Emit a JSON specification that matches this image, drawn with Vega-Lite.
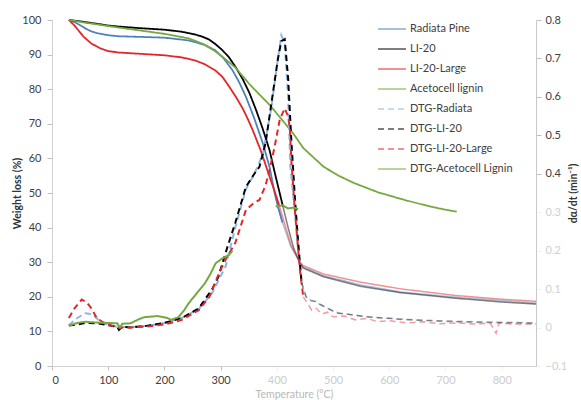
{
  "$schema": "https://vega.github.io/schema/vega-lite/v6.json",
  "width": 484,
  "height": 346,
  "autosize": {"type": "none"},
  "padding": {"left": 52, "top": 20, "right": 45, "bottom": 34},
  "background": "white",
  "config": {
    "view": {"stroke": null},
    "font": "Lato",
    "axis": {"labelFont": "Lato", "titleFont": "Lato", "grid": false}
  },
  "datasets": {
    "tg": [
      {"series": "Radiata Pine", "T": 30, "wl": 100}, {"series": "Radiata Pine", "T": 40, "wl": 99.4}, {"series": "Radiata Pine", "T": 50, "wl": 98.5}, {"series": "Radiata Pine", "T": 60, "wl": 97.5}, {"series": "Radiata Pine", "T": 70, "wl": 96.7}, {"series": "Radiata Pine", "T": 80, "wl": 96.2}, {"series": "Radiata Pine", "T": 100, "wl": 95.6}, {"series": "Radiata Pine", "T": 119, "wl": 95.3}, {"series": "Radiata Pine", "T": 160, "wl": 95.1}, {"series": "Radiata Pine", "T": 200, "wl": 94.9}, {"series": "Radiata Pine", "T": 243, "wl": 94.1}, {"series": "Radiata Pine", "T": 270, "wl": 92.9}, {"series": "Radiata Pine", "T": 290, "wl": 91.3}, {"series": "Radiata Pine", "T": 305, "wl": 89}, {"series": "Radiata Pine", "T": 321, "wl": 85.5}, {"series": "Radiata Pine", "T": 333, "wl": 82}, {"series": "Radiata Pine", "T": 345, "wl": 77.8}, {"series": "Radiata Pine", "T": 360, "wl": 71.5}, {"series": "Radiata Pine", "T": 375, "wl": 64.4}, {"series": "Radiata Pine", "T": 387, "wl": 57.5}, {"series": "Radiata Pine", "T": 396, "wl": 50}, {"series": "Radiata Pine", "T": 402, "wl": 46}, {"series": "Radiata Pine", "T": 410, "wl": 41.5}, {"series": "Radiata Pine", "T": 425, "wl": 34.5}, {"series": "Radiata Pine", "T": 441, "wl": 29.9}, {"series": "Radiata Pine", "T": 447, "wl": 28.6}, {"series": "Radiata Pine", "T": 483, "wl": 26.1}, {"series": "Radiata Pine", "T": 550, "wl": 23.4}, {"series": "Radiata Pine", "T": 620, "wl": 21.4}, {"series": "Radiata Pine", "T": 717, "wl": 19.9}, {"series": "Radiata Pine", "T": 800, "wl": 18.9}, {"series": "Radiata Pine", "T": 861, "wl": 18.2},
      {"series": "LI-20", "T": 30, "wl": 100}, {"series": "LI-20", "T": 50, "wl": 99.6}, {"series": "LI-20", "T": 80, "wl": 98.9}, {"series": "LI-20", "T": 100, "wl": 98.4}, {"series": "LI-20", "T": 119, "wl": 98.1}, {"series": "LI-20", "T": 160, "wl": 97.6}, {"series": "LI-20", "T": 200, "wl": 97.2}, {"series": "LI-20", "T": 231, "wl": 96.6}, {"series": "LI-20", "T": 255, "wl": 95.8}, {"series": "LI-20", "T": 267, "wl": 95.2}, {"series": "LI-20", "T": 279, "wl": 94.4}, {"series": "LI-20", "T": 291, "wl": 93}, {"series": "LI-20", "T": 303, "wl": 91.3}, {"series": "LI-20", "T": 315, "wl": 89.2}, {"series": "LI-20", "T": 327, "wl": 86.3}, {"series": "LI-20", "T": 339, "wl": 83}, {"series": "LI-20", "T": 351, "wl": 79}, {"series": "LI-20", "T": 363, "wl": 74}, {"series": "LI-20", "T": 375, "wl": 68.5}, {"series": "LI-20", "T": 387, "wl": 62.4}, {"series": "LI-20", "T": 398, "wl": 54.7}, {"series": "LI-20", "T": 411, "wl": 46}, {"series": "LI-20", "T": 420, "wl": 40}, {"series": "LI-20", "T": 430, "wl": 34}, {"series": "LI-20", "T": 441, "wl": 29.7}, {"series": "LI-20", "T": 447, "wl": 28.3}, {"series": "LI-20", "T": 483, "wl": 25.8}, {"series": "LI-20", "T": 550, "wl": 23}, {"series": "LI-20", "T": 620, "wl": 21.2}, {"series": "LI-20", "T": 717, "wl": 19.6}, {"series": "LI-20", "T": 800, "wl": 18.5}, {"series": "LI-20", "T": 861, "wl": 17.9},
      {"series": "LI-20-Large", "T": 30, "wl": 100}, {"series": "LI-20-Large", "T": 40, "wl": 98.4}, {"series": "LI-20-Large", "T": 48, "wl": 96.8}, {"series": "LI-20-Large", "T": 56, "wl": 95.2}, {"series": "LI-20-Large", "T": 70, "wl": 93.2}, {"series": "LI-20-Large", "T": 86, "wl": 91.8}, {"series": "LI-20-Large", "T": 100, "wl": 91}, {"series": "LI-20-Large", "T": 119, "wl": 90.6}, {"series": "LI-20-Large", "T": 160, "wl": 90.2}, {"series": "LI-20-Large", "T": 200, "wl": 89.8}, {"series": "LI-20-Large", "T": 231, "wl": 89.2}, {"series": "LI-20-Large", "T": 255, "wl": 88.3}, {"series": "LI-20-Large", "T": 272, "wl": 87.2}, {"series": "LI-20-Large", "T": 290, "wl": 85.5}, {"series": "LI-20-Large", "T": 303, "wl": 83.6}, {"series": "LI-20-Large", "T": 315, "wl": 80.8}, {"series": "LI-20-Large", "T": 327, "wl": 77.8}, {"series": "LI-20-Large", "T": 339, "wl": 74.5}, {"series": "LI-20-Large", "T": 348, "wl": 71.5}, {"series": "LI-20-Large", "T": 357, "wl": 68.2}, {"series": "LI-20-Large", "T": 372, "wl": 62}, {"series": "LI-20-Large", "T": 387, "wl": 54.7}, {"series": "LI-20-Large", "T": 396, "wl": 50.5}, {"series": "LI-20-Large", "T": 405, "wl": 46}, {"series": "LI-20-Large", "T": 415, "wl": 40.5}, {"series": "LI-20-Large", "T": 425, "wl": 35}, {"series": "LI-20-Large", "T": 441, "wl": 30}, {"series": "LI-20-Large", "T": 447, "wl": 29}, {"series": "LI-20-Large", "T": 483, "wl": 26.6}, {"series": "LI-20-Large", "T": 550, "wl": 24.2}, {"series": "LI-20-Large", "T": 620, "wl": 22.3}, {"series": "LI-20-Large", "T": 717, "wl": 20.4}, {"series": "LI-20-Large", "T": 800, "wl": 19.3}, {"series": "LI-20-Large", "T": 861, "wl": 18.7},
      {"series": "Acetocell lignin", "T": 30, "wl": 100}, {"series": "Acetocell lignin", "T": 60, "wl": 99.2}, {"series": "Acetocell lignin", "T": 90, "wl": 98.5}, {"series": "Acetocell lignin", "T": 119, "wl": 97.8}, {"series": "Acetocell lignin", "T": 160, "wl": 96.9}, {"series": "Acetocell lignin", "T": 200, "wl": 96}, {"series": "Acetocell lignin", "T": 243, "wl": 94.7}, {"series": "Acetocell lignin", "T": 270, "wl": 93}, {"series": "Acetocell lignin", "T": 290, "wl": 91}, {"series": "Acetocell lignin", "T": 303, "wl": 89.4}, {"series": "Acetocell lignin", "T": 326, "wl": 86.3}, {"series": "Acetocell lignin", "T": 351, "wl": 81.5}, {"series": "Acetocell lignin", "T": 370, "wl": 78.3}, {"series": "Acetocell lignin", "T": 387, "wl": 75.5}, {"series": "Acetocell lignin", "T": 410, "wl": 71}, {"series": "Acetocell lignin", "T": 430, "wl": 67}, {"series": "Acetocell lignin", "T": 447, "wl": 63}, {"series": "Acetocell lignin", "T": 483, "wl": 57.6}, {"series": "Acetocell lignin", "T": 510, "wl": 55}, {"series": "Acetocell lignin", "T": 537, "wl": 52.9}, {"series": "Acetocell lignin", "T": 580, "wl": 50.2}, {"series": "Acetocell lignin", "T": 627, "wl": 48}, {"series": "Acetocell lignin", "T": 670, "wl": 46.2}, {"series": "Acetocell lignin", "T": 699, "wl": 45.2}, {"series": "Acetocell lignin", "T": 720, "wl": 44.6}
    ],
    "dtg": [
      {"series": "DTG-Radiata", "T": 30, "dtg": 0.006}, {"series": "DTG-Radiata", "T": 45, "dtg": 0.025}, {"series": "DTG-Radiata", "T": 59, "dtg": 0.037}, {"series": "DTG-Radiata", "T": 72, "dtg": 0.035}, {"series": "DTG-Radiata", "T": 86, "dtg": 0.015}, {"series": "DTG-Radiata", "T": 100, "dtg": 0.007}, {"series": "DTG-Radiata", "T": 116, "dtg": 0.002}, {"series": "DTG-Radiata", "T": 140, "dtg": 0.001}, {"series": "DTG-Radiata", "T": 170, "dtg": 0.005}, {"series": "DTG-Radiata", "T": 200, "dtg": 0.012}, {"series": "DTG-Radiata", "T": 231, "dtg": 0.025}, {"series": "DTG-Radiata", "T": 261, "dtg": 0.048}, {"series": "DTG-Radiata", "T": 285, "dtg": 0.09}, {"series": "DTG-Radiata", "T": 309, "dtg": 0.16}, {"series": "DTG-Radiata", "T": 326, "dtg": 0.26}, {"series": "DTG-Radiata", "T": 345, "dtg": 0.36}, {"series": "DTG-Radiata", "T": 360, "dtg": 0.4}, {"series": "DTG-Radiata", "T": 375, "dtg": 0.45}, {"series": "DTG-Radiata", "T": 390, "dtg": 0.57}, {"series": "DTG-Radiata", "T": 400, "dtg": 0.68}, {"series": "DTG-Radiata", "T": 408, "dtg": 0.76}, {"series": "DTG-Radiata", "T": 414, "dtg": 0.74}, {"series": "DTG-Radiata", "T": 420, "dtg": 0.6}, {"series": "DTG-Radiata", "T": 424, "dtg": 0.42}, {"series": "DTG-Radiata", "T": 428, "dtg": 0.36}, {"series": "DTG-Radiata", "T": 432, "dtg": 0.3}, {"series": "DTG-Radiata", "T": 438, "dtg": 0.2}, {"series": "DTG-Radiata", "T": 444, "dtg": 0.12}, {"series": "DTG-Radiata", "T": 452, "dtg": 0.078}, {"series": "DTG-Radiata", "T": 480, "dtg": 0.058}, {"series": "DTG-Radiata", "T": 510, "dtg": 0.038}, {"series": "DTG-Radiata", "T": 560, "dtg": 0.028}, {"series": "DTG-Radiata", "T": 620, "dtg": 0.021}, {"series": "DTG-Radiata", "T": 700, "dtg": 0.015}, {"series": "DTG-Radiata", "T": 780, "dtg": 0.012}, {"series": "DTG-Radiata", "T": 861, "dtg": 0.01},
      {"series": "DTG-LI-20", "T": 30, "dtg": 0.005}, {"series": "DTG-LI-20", "T": 45, "dtg": 0.008}, {"series": "DTG-LI-20", "T": 60, "dtg": 0.012}, {"series": "DTG-LI-20", "T": 80, "dtg": 0.011}, {"series": "DTG-LI-20", "T": 100, "dtg": 0.006}, {"series": "DTG-LI-20", "T": 116, "dtg": 0.002}, {"series": "DTG-LI-20", "T": 119, "dtg": -0.006}, {"series": "DTG-LI-20", "T": 125, "dtg": 0.002}, {"series": "DTG-LI-20", "T": 140, "dtg": 0.0}, {"series": "DTG-LI-20", "T": 170, "dtg": 0.005}, {"series": "DTG-LI-20", "T": 200, "dtg": 0.012}, {"series": "DTG-LI-20", "T": 231, "dtg": 0.025}, {"series": "DTG-LI-20", "T": 261, "dtg": 0.05}, {"series": "DTG-LI-20", "T": 285, "dtg": 0.1}, {"series": "DTG-LI-20", "T": 296, "dtg": 0.132}, {"series": "DTG-LI-20", "T": 310, "dtg": 0.2}, {"series": "DTG-LI-20", "T": 326, "dtg": 0.272}, {"series": "DTG-LI-20", "T": 345, "dtg": 0.366}, {"series": "DTG-LI-20", "T": 360, "dtg": 0.4}, {"series": "DTG-LI-20", "T": 369, "dtg": 0.418}, {"series": "DTG-LI-20", "T": 380, "dtg": 0.48}, {"series": "DTG-LI-20", "T": 393, "dtg": 0.61}, {"series": "DTG-LI-20", "T": 402, "dtg": 0.7}, {"series": "DTG-LI-20", "T": 408, "dtg": 0.745}, {"series": "DTG-LI-20", "T": 414, "dtg": 0.75}, {"series": "DTG-LI-20", "T": 420, "dtg": 0.65}, {"series": "DTG-LI-20", "T": 426, "dtg": 0.48}, {"series": "DTG-LI-20", "T": 432, "dtg": 0.34}, {"series": "DTG-LI-20", "T": 438, "dtg": 0.22}, {"series": "DTG-LI-20", "T": 444, "dtg": 0.116}, {"series": "DTG-LI-20", "T": 452, "dtg": 0.08}, {"series": "DTG-LI-20", "T": 460, "dtg": 0.07}, {"series": "DTG-LI-20", "T": 470, "dtg": 0.068}, {"series": "DTG-LI-20", "T": 477, "dtg": 0.06}, {"series": "DTG-LI-20", "T": 490, "dtg": 0.05}, {"series": "DTG-LI-20", "T": 507, "dtg": 0.038}, {"series": "DTG-LI-20", "T": 530, "dtg": 0.034}, {"series": "DTG-LI-20", "T": 560, "dtg": 0.028}, {"series": "DTG-LI-20", "T": 600, "dtg": 0.024}, {"series": "DTG-LI-20", "T": 627, "dtg": 0.021}, {"series": "DTG-LI-20", "T": 660, "dtg": 0.019}, {"series": "DTG-LI-20", "T": 700, "dtg": 0.017}, {"series": "DTG-LI-20", "T": 740, "dtg": 0.015}, {"series": "DTG-LI-20", "T": 780, "dtg": 0.014}, {"series": "DTG-LI-20", "T": 820, "dtg": 0.013}, {"series": "DTG-LI-20", "T": 861, "dtg": 0.012},
      {"series": "DTG-LI-20-Large", "T": 30, "dtg": 0.025}, {"series": "DTG-LI-20-Large", "T": 40, "dtg": 0.05}, {"series": "DTG-LI-20-Large", "T": 53, "dtg": 0.073}, {"series": "DTG-LI-20-Large", "T": 62, "dtg": 0.065}, {"series": "DTG-LI-20-Large", "T": 70, "dtg": 0.05}, {"series": "DTG-LI-20-Large", "T": 80, "dtg": 0.024}, {"series": "DTG-LI-20-Large", "T": 95, "dtg": 0.01}, {"series": "DTG-LI-20-Large", "T": 116, "dtg": 0.0}, {"series": "DTG-LI-20-Large", "T": 140, "dtg": 0.0}, {"series": "DTG-LI-20-Large", "T": 170, "dtg": 0.003}, {"series": "DTG-LI-20-Large", "T": 200, "dtg": 0.008}, {"series": "DTG-LI-20-Large", "T": 231, "dtg": 0.02}, {"series": "DTG-LI-20-Large", "T": 261, "dtg": 0.045}, {"series": "DTG-LI-20-Large", "T": 280, "dtg": 0.08}, {"series": "DTG-LI-20-Large", "T": 297, "dtg": 0.141}, {"series": "DTG-LI-20-Large", "T": 310, "dtg": 0.18}, {"series": "DTG-LI-20-Large", "T": 326, "dtg": 0.22}, {"series": "DTG-LI-20-Large", "T": 345, "dtg": 0.306}, {"series": "DTG-LI-20-Large", "T": 360, "dtg": 0.325}, {"series": "DTG-LI-20-Large", "T": 369, "dtg": 0.332}, {"series": "DTG-LI-20-Large", "T": 380, "dtg": 0.37}, {"series": "DTG-LI-20-Large", "T": 387, "dtg": 0.41}, {"series": "DTG-LI-20-Large", "T": 396, "dtg": 0.47}, {"series": "DTG-LI-20-Large", "T": 405, "dtg": 0.54}, {"series": "DTG-LI-20-Large", "T": 414, "dtg": 0.57}, {"series": "DTG-LI-20-Large", "T": 420, "dtg": 0.55}, {"series": "DTG-LI-20-Large", "T": 423, "dtg": 0.52}, {"series": "DTG-LI-20-Large", "T": 426, "dtg": 0.43}, {"series": "DTG-LI-20-Large", "T": 432, "dtg": 0.306}, {"series": "DTG-LI-20-Large", "T": 441, "dtg": 0.15}, {"series": "DTG-LI-20-Large", "T": 447, "dtg": 0.08}, {"series": "DTG-LI-20-Large", "T": 455, "dtg": 0.062}, {"series": "DTG-LI-20-Large", "T": 462, "dtg": 0.045}, {"series": "DTG-LI-20-Large", "T": 470, "dtg": 0.05}, {"series": "DTG-LI-20-Large", "T": 480, "dtg": 0.035}, {"series": "DTG-LI-20-Large", "T": 490, "dtg": 0.04}, {"series": "DTG-LI-20-Large", "T": 500, "dtg": 0.028}, {"series": "DTG-LI-20-Large", "T": 520, "dtg": 0.03}, {"series": "DTG-LI-20-Large", "T": 540, "dtg": 0.02}, {"series": "DTG-LI-20-Large", "T": 560, "dtg": 0.024}, {"series": "DTG-LI-20-Large", "T": 580, "dtg": 0.015}, {"series": "DTG-LI-20-Large", "T": 600, "dtg": 0.018}, {"series": "DTG-LI-20-Large", "T": 630, "dtg": 0.012}, {"series": "DTG-LI-20-Large", "T": 660, "dtg": 0.015}, {"series": "DTG-LI-20-Large", "T": 690, "dtg": 0.01}, {"series": "DTG-LI-20-Large", "T": 720, "dtg": 0.012}, {"series": "DTG-LI-20-Large", "T": 750, "dtg": 0.009}, {"series": "DTG-LI-20-Large", "T": 780, "dtg": 0.011}, {"series": "DTG-LI-20-Large", "T": 790, "dtg": -0.015}, {"series": "DTG-LI-20-Large", "T": 795, "dtg": 0.012}, {"series": "DTG-LI-20-Large", "T": 820, "dtg": 0.009}, {"series": "DTG-LI-20-Large", "T": 861, "dtg": 0.009},
      {"series": "DTG-Acetocell Lignin", "T": 30, "dtg": 0.005}, {"series": "DTG-Acetocell Lignin", "T": 45, "dtg": 0.012}, {"series": "DTG-Acetocell Lignin", "T": 59, "dtg": 0.015}, {"series": "DTG-Acetocell Lignin", "T": 80, "dtg": 0.013}, {"series": "DTG-Acetocell Lignin", "T": 100, "dtg": 0.012}, {"series": "DTG-Acetocell Lignin", "T": 116, "dtg": 0.011}, {"series": "DTG-Acetocell Lignin", "T": 121, "dtg": 0.0}, {"series": "DTG-Acetocell Lignin", "T": 125, "dtg": 0.01}, {"series": "DTG-Acetocell Lignin", "T": 140, "dtg": 0.011}, {"series": "DTG-Acetocell Lignin", "T": 152, "dtg": 0.02}, {"series": "DTG-Acetocell Lignin", "T": 164, "dtg": 0.027}, {"series": "DTG-Acetocell Lignin", "T": 188, "dtg": 0.03}, {"series": "DTG-Acetocell Lignin", "T": 205, "dtg": 0.025}, {"series": "DTG-Acetocell Lignin", "T": 212, "dtg": 0.02}, {"series": "DTG-Acetocell Lignin", "T": 225, "dtg": 0.027}, {"series": "DTG-Acetocell Lignin", "T": 235, "dtg": 0.045}, {"series": "DTG-Acetocell Lignin", "T": 243, "dtg": 0.063}, {"series": "DTG-Acetocell Lignin", "T": 258, "dtg": 0.09}, {"series": "DTG-Acetocell Lignin", "T": 272, "dtg": 0.115}, {"series": "DTG-Acetocell Lignin", "T": 282, "dtg": 0.14}, {"series": "DTG-Acetocell Lignin", "T": 291, "dtg": 0.167}, {"series": "DTG-Acetocell Lignin", "T": 303, "dtg": 0.18}, {"series": "DTG-Acetocell Lignin", "T": 315, "dtg": 0.189}, {"series": "DTG-Acetocell Lignin", "T": 321, "dtg": 0.2}, {"series": "DTG-Acetocell Lignin", "T": 360, "dtg": null}, {"series": "DTG-Acetocell Lignin", "T": 398, "dtg": 0.315}, {"series": "DTG-Acetocell Lignin", "T": 410, "dtg": 0.318}, {"series": "DTG-Acetocell Lignin", "T": 420, "dtg": 0.31}, {"series": "DTG-Acetocell Lignin", "T": 430, "dtg": 0.312}, {"series": "DTG-Acetocell Lignin", "T": 438, "dtg": 0.308}
    ]
  },
  "layer": [
    {
      "data": {"name": "tg"},
      "encoding": {
        "x": {"field": "T", "type": "quantitative", "scale": {"domain": [0, 861], "nice": false, "zero": false},
          "axis": {"values": [0, 100, 200, 300, 400, 500, 600, 700, 800], "title": "Temperature (°C)", "titleColor": "#b8b8b8", "titleFontWeight": "normal", "titleFontSize": 10.5, "titlePadding": 4,
            "labelColor": {"expr": "datum.value <= 300 ? '#404040' : '#cccccc'"}, "tickColor": {"expr": "datum.value <= 300 ? '#bfbfbf' : '#eeeeee'"}, "domainColor": "#d0d0d0", "labelFontSize": 11, "tickSize": 4, "labelPadding": 4}},
        "y": {"field": "wl", "type": "quantitative", "scale": {"domain": [0, 100], "nice": false},
          "axis": {"orient": "left", "values": [0, 10, 20, 30, 40, 50, 60, 70, 80, 90, 100], "title": "Weight loss (%)", "titleFontWeight": "bold", "titleFontSize": 10.5, "titleColor": "#333333", "titleX": -30,
            "labelColor": "#404040", "labelFontSize": 11, "tickSize": 5, "labelPadding": 6, "domainColor": "#d0d0d0", "tickColor": "#bfbfbf"}},
        "color": {"field": "series", "type": "nominal",
          "scale": {"domain": ["Radiata Pine", "LI-20", "LI-20-Large", "Acetocell lignin", "DTG-Radiata", "DTG-LI-20", "DTG-LI-20-Large", "DTG-Acetocell Lignin"],
                    "range": ["#4F81BD", "#000000", "#E3262A", "#76A83F", "#8EB4E3", "#000000", "#E3262A", "#76A83F"]},
          "legend": {"title": null, "orient": "none", "legendX": 325, "legendY": -6, "symbolType": "stroke", "symbolSize": 784, "symbolStrokeWidth": 2, "labelFont": "Lato", "labelFontSize": 11, "labelColor": "#404040", "rowPadding": -7.6, "labelOffset": 3}},
        "strokeDash": {"field": "series", "type": "nominal",
          "scale": {"domain": ["Radiata Pine", "LI-20", "LI-20-Large", "Acetocell lignin", "DTG-Radiata", "DTG-LI-20", "DTG-LI-20-Large", "DTG-Acetocell Lignin"],
                    "range": [[1, 0], [1, 0], [1, 0], [1, 0], [6, 4], [6, 4], [6, 4], [1, 0]]},
          "legend": {"title": null, "orient": "none", "legendX": 325, "legendY": -6, "symbolType": "stroke", "symbolSize": 784, "symbolStrokeWidth": 2, "labelFont": "Lato", "labelFontSize": 11, "labelColor": "#404040", "rowPadding": -7.6, "labelOffset": 3}}
      },
      "layer": [
        {"transform": [{"filter": "datum.T <= 411 || datum.series == 'Acetocell lignin'"}], "mark": {"type": "line", "strokeWidth": 1.8}},
        {"transform": [{"filter": "datum.T >= 402 && datum.series != 'Acetocell lignin'"}], "mark": {"type": "line", "strokeWidth": 1.5, "opacity": 0.5}}
      ]
    },
    {
      "data": {"name": "dtg"},
      "encoding": {
        "x": {"field": "T", "type": "quantitative", "scale": {"domain": [0, 861], "nice": false, "zero": false},
          "axis": {"values": [0, 100, 200, 300, 400, 500, 600, 700, 800], "title": "Temperature (°C)", "titleColor": "#b8b8b8", "titleFontWeight": "normal", "titleFontSize": 10.5, "titlePadding": 4,
            "labelColor": {"expr": "datum.value <= 300 ? '#404040' : '#cccccc'"}, "tickColor": {"expr": "datum.value <= 300 ? '#bfbfbf' : '#eeeeee'"}, "domainColor": "#d0d0d0", "labelFontSize": 11, "tickSize": 4, "labelPadding": 4}},
        "y": {"field": "dtg", "type": "quantitative", "scale": {"domain": [-0.1, 0.8], "nice": false, "zero": false},
          "axis": {"orient": "right", "values": [-0.1, 0, 0.1, 0.2, 0.3, 0.4, 0.5, 0.6, 0.7, 0.8], "format": "~g", "title": "dα/dt (min⁻¹)", "titleFontWeight": "bold", "titleFontSize": 10.5, "titleColor": "#333333", "titleAngle": 270, "titlePadding": 12,
            "labelColor": {"expr": "datum.value >= 0.35 ? '#404040' : '#d0d0d0'"}, "tickColor": {"expr": "datum.value >= 0.35 ? '#bfbfbf' : '#f0f0f0'"}, "labelFontSize": 11, "tickSize": 5, "labelPadding": 4, "domainColor": "#c8c8c8"}},
        "color": {"field": "series", "type": "nominal",
          "scale": {"domain": ["Radiata Pine", "LI-20", "LI-20-Large", "Acetocell lignin", "DTG-Radiata", "DTG-LI-20", "DTG-LI-20-Large", "DTG-Acetocell Lignin"],
                    "range": ["#4F81BD", "#000000", "#E3262A", "#76A83F", "#8EB4E3", "#000000", "#E3262A", "#76A83F"]},
          "legend": {"title": null, "orient": "none", "legendX": 325, "legendY": -6, "symbolType": "stroke", "symbolSize": 784, "symbolStrokeWidth": 2, "labelFont": "Lato", "labelFontSize": 11, "labelColor": "#404040", "rowPadding": -7.6, "labelOffset": 3}},
        "strokeDash": {"field": "series", "type": "nominal",
          "scale": {"domain": ["Radiata Pine", "LI-20", "LI-20-Large", "Acetocell lignin", "DTG-Radiata", "DTG-LI-20", "DTG-LI-20-Large", "DTG-Acetocell Lignin"],
                    "range": [[1, 0], [1, 0], [1, 0], [1, 0], [6, 4], [6, 4], [6, 4], [1, 0]]},
          "legend": {"title": null, "orient": "none", "legendX": 325, "legendY": -6, "symbolType": "stroke", "symbolSize": 784, "symbolStrokeWidth": 2, "labelFont": "Lato", "labelFontSize": 11, "labelColor": "#404040", "rowPadding": -7.6, "labelOffset": 3}}
      },
      "layer": [
        {"transform": [{"filter": "datum.T <= 447"}], "mark": {"type": "line", "strokeWidth": 2, "invalid": "break-paths-filter-domains"}},
        {"transform": [{"filter": "datum.T >= 444 && datum.series != 'DTG-Acetocell Lignin'"}], "mark": {"type": "line", "strokeWidth": 1.5, "opacity": 0.45}}
      ]
    }
  ],
  "resolve": {"scale": {"y": "independent"}}
}
